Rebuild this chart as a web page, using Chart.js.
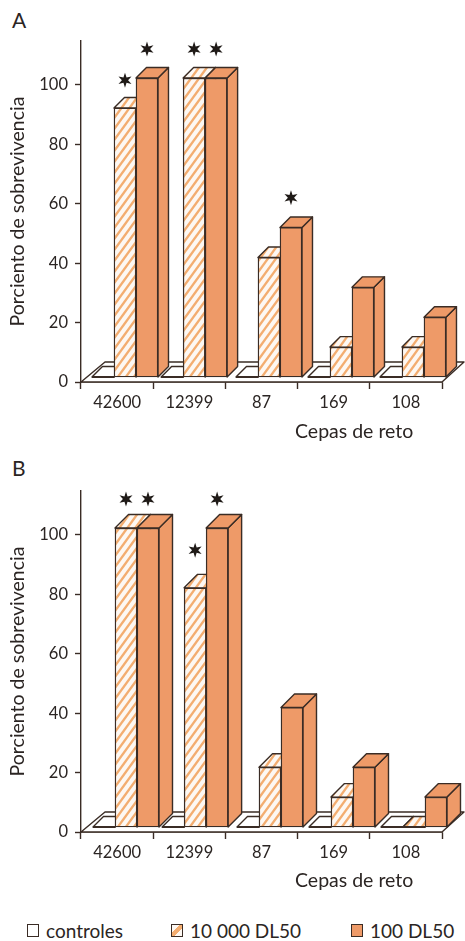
<!DOCTYPE html>
<html>
<head>
<meta charset="utf-8">
<title>Porciento de sobrevivencia</title>
<script src="https://cdn.jsdelivr.net/npm/chart.js@4/dist/chart.umd.min.js"></script>
<style>
  html, body { margin: 0; padding: 0; background: #fff; }
  body { position: relative; width: 465px; height: 941px; overflow: hidden; font-family: Lato, sans-serif; color: #2b2523; }
  .box { position: absolute; left: 0; width: 465px; height: 440px; }
  .txt { position: absolute; font-size: 19px; line-height: 22px; white-space: nowrap; }
  .head { font-size: 21px; }
  .swatch { position: absolute; top: 924px; width: 10px; height: 11px; border: 1.5px solid #3a2c25; box-sizing: content-box; }
</style>
</head>
<body>
<div class="txt head" style="left:12px;top:9px">A</div>
<div class="box" style="top:0"><canvas id="chartA" width="465" height="440"></canvas></div>
<div class="txt" style="left:295px;top:420px;font-size:19.5px">Cepas de reto</div>

<div class="txt head" style="left:12px;top:457px">B</div>
<div class="box" style="top:450px"><canvas id="chartB" width="465" height="440"></canvas></div>
<div class="txt" style="left:295px;top:869px;font-size:19.5px">Cepas de reto</div>

<div class="swatch" style="left:27px;background:#fff"></div>
<div class="txt" style="left:46px;top:920px">controles</div>
<div class="swatch" id="patternSwatch" style="left:171px"></div>
<div class="txt" style="left:190px;top:920px">10 000 DL50</div>
<div class="swatch" style="left:351px;background:#ee9a68"></div>
<div class="txt" style="left:370px;top:920px">100 DL50</div>

<script>
const strains = ['42600', '12399', '87', '169', '108'];

const controlsA = [0, 0, 0, 0, 0];
const low10000A = [90, 100, 40, 10, 10];
const high100A = [100, 100, 50, 30, 20];
// height of the asterisks, in axis units, null where there is none
const starsLowA = [99.3, 109.7, null, null, null];
const starsHighA = [109.7, 109.7, 60, null, null];

const controlsB = [0, 0, 0, 0, 0];
const low10000B = [100, 80, 20, 10, 0];
const high100B = [100, 100, 40, 20, 10];
const starsLowB = [109.7, 92.6, null, null, null];
const starsHighB = [109.7, 109.7, null, null, null];

const ink = '#3a2c25';
const orange = '#ee9a68';

// diagonal hatch used by the 10 000 DL50 bars
function makeHatch() {
  const tile = document.createElement('canvas');
  tile.width = 8;
  tile.height = 11;
  const c = tile.getContext('2d');
  c.fillStyle = '#fdf8f3';
  c.fillRect(0, 0, 8, 11);
  c.strokeStyle = '#f3ad70';
  c.lineWidth = 2.3;
  [-8, 0, 8].forEach(off => {
    c.beginPath();
    c.moveTo(off - 2, 13.75);
    c.lineTo(off + 10, -2.75);
    c.stroke();
  });
  return c.createPattern(tile, 'repeat');
}

function poly(ctx, pts, fill) {
  ctx.beginPath();
  pts.forEach((p, i) => i ? ctx.lineTo(p[0], p[1]) : ctx.moveTo(p[0], p[1]));
  ctx.closePath();
  ctx.fillStyle = fill;
  ctx.fill();
  ctx.stroke();
}

function drawStar(ctx, x, y) {
  ctx.beginPath();
  for (let i = 0; i < 12; i++) {
    const r = i % 2 ? 3.1 : 7.5;
    const a = -Math.PI / 2 + i * Math.PI / 6;
    ctx.lineTo(x + r * Math.cos(a), y + r * Math.sin(a));
  }
  ctx.closePath();
  ctx.fillStyle = '#1f1a17';
  ctx.fill();
}

const bars3d = {
  id: 'bars3d',
  beforeDatasetsDraw(chart, args, opts) {
    const ctx = chart.ctx;
    const y0 = chart.scales.y.getPixelForValue(0);
    const left = chart.chartArea.left;
    const right = chart.chartArea.right;
    ctx.save();
    ctx.strokeStyle = ink;
    ctx.lineWidth = 1.4;
    ctx.lineJoin = 'round';
    // floor of the box
    poly(ctx, [[left, y0], [right, y0], [right + 22, y0 - 20], [left + 24, y0 - 20]], '#fff');
    chart.data.datasets.forEach((ds, d) => {
      chart.getDatasetMeta(d).data.forEach(el => {
        const l = el.x - el.width / 2;
        const r = el.x + el.width / 2;
        // flat bars keep the short depth of the controls
        const dep = el.base - el.y < 1 ? 10.5 : opts.depth;
        poly(ctx, [[r, el.y], [r, el.base], [r + dep, el.base - dep], [r + dep, el.y - dep]], ds.backgroundColor);
        poly(ctx, [[l, el.y], [r, el.y], [r + dep, el.y - dep], [l + dep, el.y - dep]], ds.backgroundColor);
        if (el.base - el.y < 1) {
          ctx.beginPath();
          ctx.moveTo(l, el.y);
          ctx.lineTo(r, el.y);
          ctx.lineWidth = 2;
          ctx.stroke();
          ctx.lineWidth = 1.4;
        }
      });
    });
    ctx.restore();
  },
  afterDatasetsDraw(chart) {
    const ctx = chart.ctx;
    chart.data.datasets.forEach((ds, d) => {
      if (!ds.stars) return;
      chart.getDatasetMeta(d).data.forEach((el, i) => {
        if (ds.stars[i] !== null) drawStar(ctx, el.x, chart.scales.yBars.getPixelForValue(ds.stars[i]));
      });
    });
  }
};

function buildChart(id, controls, low, high, starsLow, starsHigh, hatch, depth, xMin, xMax) {
  // the second group sits a little left of the regular spacing in the original
  const points = vals => vals.map((v, i) => ({ x: i === 1 ? i - 0.04 : i, y: v }));
  const common = { xAxisID: 'xBars', yAxisID: 'yBars', barThickness: 22, borderColor: ink, borderWidth: 1.4, borderSkipped: false, clip: false };
  return new Chart(document.getElementById(id), {
    type: 'bar',
    data: {
      labels: strains,
      datasets: [
        { ...common, label: 'controles', data: points(controls), backgroundColor: '#fff' },
        { ...common, label: '10 000 DL50', data: points(low), backgroundColor: hatch, stars: starsLow },
        { ...common, label: '100 DL50', data: points(high), backgroundColor: orange, stars: starsHigh }
      ]
    },
    options: {
      responsive: false,
      animation: false,
      events: [],
      layout: { padding: { top: 41, right: 23, left: 0, bottom: 0 } },
      plugins: { legend: { display: false }, tooltip: { enabled: false }, bars3d: { depth: depth } },
      scales: {
        xBars: { type: 'linear', axis: 'x', display: false, offset: false, grid: { offset: false }, min: xMin, max: xMax },
        yBars: { type: 'linear', axis: 'y', display: false, min: -1.67, max: 112.4 },
        x: {
          type: 'category',
          labels: strains,
          offset: true,
          position: 'bottom',
          afterFit: s => { s.height = 58; },
          border: { color: ink, width: 1.4 },
          grid: { offset: true, drawOnChartArea: false, tickLength: 7, tickColor: ink, tickWidth: 1.4 },
          ticks: { color: '#2b2523', font: { family: 'Lato', size: 16.5 }, padding: 4, maxRotation: 0, autoSkip: false }
        },
        y: {
          type: 'linear',
          position: 'left',
          min: 0,
          max: 114.8,
          afterFit: s => { s.width = 81; },
          border: { color: ink, width: 1.4 },
          grid: { drawOnChartArea: false, tickLength: 6, tickColor: ink, tickWidth: 1.4 },
          ticks: { stepSize: 20, includeBounds: false, color: '#2b2523', font: { family: 'Lato', size: 16.5 }, padding: 7 },
          title: { display: true, text: 'Porciento de sobrevivencia', color: '#2b2523', font: { family: 'Lato', size: 19.5 }, padding: { top: 6, bottom: 0 } }
        }
      }
    },
    plugins: [bars3d]
  });
}

const hatch = makeHatch();
document.getElementById('patternSwatch').style.background = 'linear-gradient(135deg,#fdf8f3 35%,#f3ad70 35% 65%,#fdf8f3 65%)';
buildChart('chartA', controlsA, low10000A, high100A, starsLowA, starsHighA, hatch, 10.5, -0.611, 4.403);
buildChart('chartB', controlsB, low10000B, high100B, starsLowB, starsHighB, hatch, 13.5, -0.625, 4.389);
</script>
</body>
</html>
